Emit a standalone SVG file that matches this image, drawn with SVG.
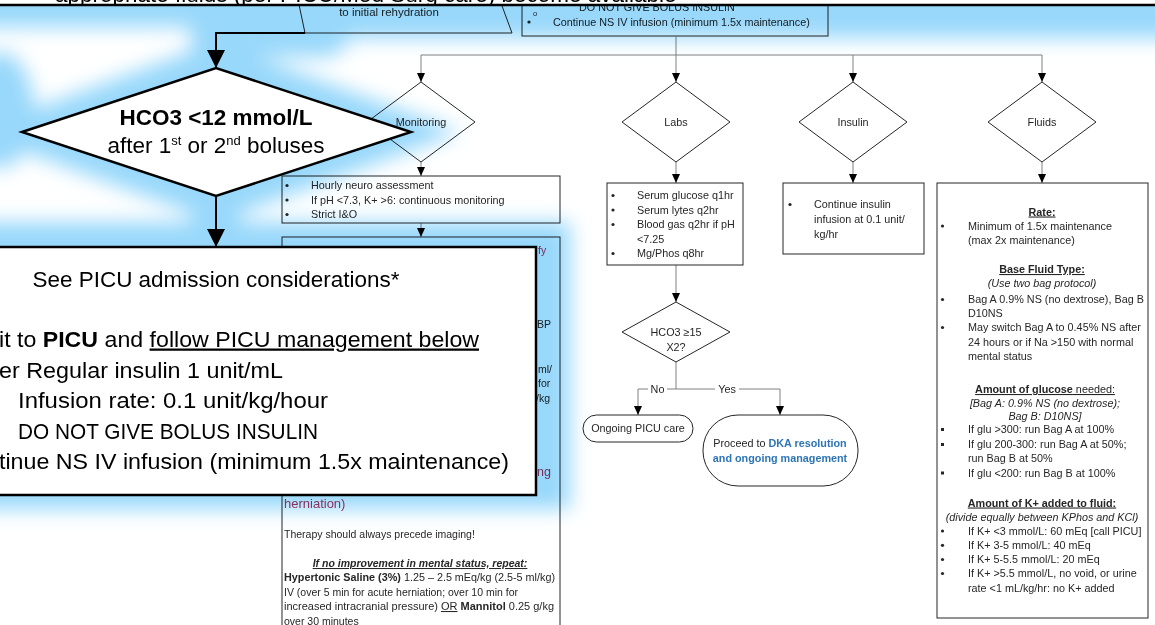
<svg xmlns="http://www.w3.org/2000/svg" width="1155" height="625" viewBox="0 0 1155 625">
<style>
text{font-family:'Liberation Sans',Arial,Helvetica,sans-serif;fill:#262626}
.s{font-size:10.8px}
.p{font-size:10.5px}
.c{text-anchor:middle}
.e{text-anchor:end}
.b{font-weight:bold}
.i{font-style:italic}
.u{text-decoration:underline}
.shape{fill:#fff;stroke:#262626;stroke-width:1}
.wire{fill:none;stroke:#808080;stroke-width:1}
.dot{fill:#262626}
.big{font-size:22.5px;fill:#000}
.heavy{fill:#fff;stroke:#000;stroke-width:2.5}
.bold-wire{fill:none;stroke:#000;stroke-width:2}
.red{fill:#b8385e}
.blue{fill:#2e75b6}
</style>
<defs>
<marker id="tip" markerUnits="userSpaceOnUse" viewBox="0 0 9 8" markerWidth="9" markerHeight="8" refX="9" refY="4" orient="auto"><path d="M0,0L9,4L0,8z" fill="#000"/></marker>
<marker id="tipBig" markerUnits="userSpaceOnUse" viewBox="0 0 18 18" markerWidth="18" markerHeight="18" refX="18" refY="9" orient="auto"><path d="M0,0L18,9L0,18z" fill="#000"/></marker>
<filter id="soft" x="-0.2" y="-0.3" width="1.4" height="1.6"><feGaussianBlur stdDeviation="10"/></filter>
<clipPath id="topClip"><rect x="-10" y="-60" width="1175" height="64.5"/></clipPath>
</defs>

<rect width="1155" height="625" fill="#fff"/>

<!-- ===== flowchart ===== -->
<g id="infusion-box">
  <rect class="shape" x="522" y="-20" width="306" height="56"/>
  <text class="s" x="579" y="10.5">DO NOT GIVE BOLUS INSULIN</text>
  <text x="533" y="16" font-size="7.5">o</text>
  <circle class="dot" cx="529" cy="22" r="1.6"/>
  <text class="s" x="553" y="25.5">Continue NS IV infusion (minimum 1.5x maintenance)</text>
</g>
<g id="rehydration">
  <polygon class="shape" points="297,-5 498,-5 512,33 305,33"/>
  <text class="c" x="389" y="16" font-size="11.5">to initial rehydration</text>
</g>

<g id="connectors">
  <path class="wire" d="M676,36V55M421,55H1042"/>
  <path class="wire" d="M421,55V82" marker-end="url(#tip)"/>
  <path class="wire" d="M676,55V82" marker-end="url(#tip)"/>
  <path class="wire" d="M853,55V82" marker-end="url(#tip)"/>
  <path class="wire" d="M1042,55V82" marker-end="url(#tip)"/>
  <path class="wire" d="M421,162V176" marker-end="url(#tip)"/>
  <path class="wire" d="M421,223V237" marker-end="url(#tip)"/>
  <path class="wire" d="M676,162V183" marker-end="url(#tip)"/>
  <path class="wire" d="M676,265V302" marker-end="url(#tip)"/>
  <path class="wire" d="M853,162V183" marker-end="url(#tip)"/>
  <path class="wire" d="M1042,162V183" marker-end="url(#tip)"/>
  <path class="wire" d="M676,362V389M638,389H780"/>
  <path class="wire" d="M638,389V415" marker-end="url(#tip)"/>
  <path class="wire" d="M780,389V415" marker-end="url(#tip)"/>
  <rect x="648" y="383" width="19" height="12" fill="#fff"/>
  <rect x="715" y="383" width="24" height="12" fill="#fff"/>
  <text class="s c" x="657.5" y="393">No</text>
  <text class="s c" x="727" y="393">Yes</text>
</g>

<g id="monitoring">
  <polygon class="shape" points="421,82 475,122 421,162 367,122"/>
  <text class="s c" x="421" y="126">Monitoring</text>
</g>
<g id="monitoring-list">
  <rect class="shape" x="282" y="176" width="278" height="47"/>
  <circle class="dot" cx="287" cy="185.5" r="1.6"/><text class="s" x="311" y="189">Hourly neuro assessment</text>
  <circle class="dot" cx="287" cy="200" r="1.6"/><text class="s" x="311" y="203.5">If pH &lt;7.3, K+ &gt;6: continuous monitoring</text>
  <circle class="dot" cx="287" cy="214.5" r="1.6"/><text class="s" x="311" y="218">Strict I&amp;O</text>
</g>
<g id="edema-panel">
  <rect class="shape" x="282" y="237" width="278" height="420"/>
  <text class="p red" x="538" y="253.5">fy</text>
  <text class="p" x="537" y="328">BP</text>
  <text class="p" x="538" y="373">ml/</text>
  <text class="p" x="538" y="386.5">for</text>
  <text class="p" x="536" y="401.5">/kg</text>
  <text class="red" x="537" y="476" font-size="12.5">ng</text>
  <text class="red" x="284" y="508" font-size="13">herniation)</text>
  <text class="p" x="284" y="538">Therapy should always precede imaging!</text>
  <text class="p c b i u" x="420" y="567">If no improvement in mental status, repeat:</text>
  <text class="p" x="284" y="581" textLength="271" lengthAdjust="spacingAndGlyphs"><tspan class="b">Hypertonic Saline (3%)</tspan> 1.25 – 2.5 mEq/kg (2.5-5 ml/kg)</text>
  <text class="p" x="284" y="595.5">IV (over 5 min for acute herniation; over 10 min for</text>
  <text class="p" x="284" y="610" textLength="270" lengthAdjust="spacingAndGlyphs">increased intracranial pressure) <tspan class="u">OR</tspan> <tspan class="b">Mannitol</tspan> 0.25 g/kg</text>
  <text class="p" x="284" y="624.5">over 30 minutes</text>
</g>

<g id="labs">
  <polygon class="shape" points="676,82 730,122 676,162 622,122"/>
  <text class="s c" x="676" y="126">Labs</text>
</g>
<g id="labs-list">
  <rect class="shape" x="607" y="183" width="136" height="82"/>
  <circle class="dot" cx="613" cy="195.5" r="1.6"/><text class="s" x="637" y="199">Serum glucose q1hr</text>
  <circle class="dot" cx="613" cy="210" r="1.6"/><text class="s" x="637" y="214">Serum lytes q2hr</text>
  <circle class="dot" cx="613" cy="224.5" r="1.6"/><text class="s" x="637" y="228">Blood gas q2hr if pH</text>
  <text class="s" x="637" y="243">&lt;7.25</text>
  <circle class="dot" cx="613" cy="253.5" r="1.6"/><text class="s" x="637" y="257">Mg/Phos q8hr</text>
</g>
<g id="hco3-check">
  <polygon class="shape" points="676,302 730,332 676,362 622,332"/>
  <text class="s c" x="676" y="336">HCO3 ≥15</text>
  <text class="s c" x="676" y="351">X2?</text>
</g>
<g id="ongoing-picu">
  <rect class="shape" x="583" y="415" width="110" height="27" rx="13.5"/>
  <text class="s c" x="638" y="432">Ongoing PICU care</text>
</g>
<g id="dka-resolution">
  <rect class="shape" x="703" y="415" width="155" height="71" rx="35"/>
  <text class="s c" x="780" y="447">Proceed to <tspan class="b blue">DKA resolution</tspan></text>
  <text class="s c b blue" x="780" y="461.5">and ongoing management</text>
</g>

<g id="insulin">
  <polygon class="shape" points="853,82 907,122 853,162 799,122"/>
  <text class="s c" x="853" y="126">Insulin</text>
</g>
<g id="insulin-list">
  <rect class="shape" x="783" y="183" width="141" height="71"/>
  <circle class="dot" cx="790" cy="204.5" r="1.6"/>
  <text class="s" x="814" y="208">Continue insulin</text>
  <text class="s" x="814" y="223">infusion at 0.1 unit/</text>
  <text class="s" x="814" y="237.5">kg/hr</text>
</g>

<g id="fluids">
  <polygon class="shape" points="1042,82 1096,122 1042,162 988,122"/>
  <text class="s c" x="1042" y="126">Fluids</text>
</g>
<g id="fluids-list">
  <rect class="shape" x="937" y="183" width="211" height="435"/>
  <text class="s c b u" x="1042" y="215.5">Rate:</text>
  <circle class="dot" cx="942.5" cy="226" r="1.6"/>
  <text class="s" x="968" y="229.5">Minimum of 1.5x maintenance</text>
  <text class="s" x="968" y="244">(max 2x maintenance)</text>
  <text class="s c b u" x="1042" y="273">Base Fluid Type:</text>
  <text class="s c i" x="1042" y="286.5">(Use two bag protocol)</text>
  <circle class="dot" cx="942.5" cy="299.5" r="1.6"/>
  <text class="s" x="968" y="303">Bag A 0.9% NS (no dextrose), Bag B</text>
  <text class="s" x="968" y="317">D10NS</text>
  <circle class="dot" cx="942.5" cy="327.5" r="1.6"/>
  <text class="s" x="968" y="331">May switch Bag A to 0.45% NS after</text>
  <text class="s" x="968" y="345.5">24 hours or if Na &gt;150 with normal</text>
  <text class="s" x="968" y="360">mental status</text>
  <text class="s c u" x="1045" y="393"><tspan class="b">Amount of glucose</tspan> needed:</text>
  <text class="s c i" x="1045" y="406.5">[Bag A: 0.9% NS (no dextrose);</text>
  <text class="s c i" x="1045" y="420">Bag B: D10NS]</text>
  <rect class="dot" x="941" y="428" width="3" height="3"/>
  <text class="s" x="968" y="433">If glu &gt;300: run Bag A at 100%</text>
  <rect class="dot" x="941" y="443" width="3" height="3"/>
  <text class="s" x="968" y="448">If glu 200-300: run Bag A at 50%;</text>
  <text class="s" x="968" y="462">run Bag B at 50%</text>
  <rect class="dot" x="941" y="471.5" width="3" height="3"/>
  <text class="s" x="968" y="476.5">If glu &lt;200: run Bag B at 100%</text>
  <text class="s c b u" x="1042" y="506.5">Amount of K+ added to fluid:</text>
  <text class="s c i" x="1042" y="520.5">(divide equally between KPhos and KCl)</text>
  <circle class="dot" cx="942.5" cy="531" r="1.6"/>
  <text class="s" x="968" y="534.5">If K+ &lt;3 mmol/L: 60 mEq [call PICU]</text>
  <circle class="dot" cx="942.5" cy="545.3" r="1.6"/>
  <text class="s" x="968" y="548.8">If K+ 3-5 mmol/L: 40 mEq</text>
  <circle class="dot" cx="942.5" cy="559.5" r="1.6"/>
  <text class="s" x="968" y="563">If K+ 5-5.5 mmol/L: 20 mEq</text>
  <circle class="dot" cx="942.5" cy="573.5" r="1.6"/>
  <text class="s" x="968" y="577">If K+ &gt;5.5 mmol/L, no void, or urine</text>
  <text class="s" x="968" y="591.5">rate &lt;1 mL/kg/hr: no K+ added</text>
</g>

<!-- ===== soft blue glow behind the highlighted callout ===== -->
<g id="glow" filter="url(#soft)" fill="#98d8fb" style="mix-blend-mode:multiply">
  <polygon points="-40,-40 1195,-40 1195,38 190,38 190,27 -40,27"/>
  <path d="M325,33H216V80" fill="none" stroke="#98d8fb" stroke-width="48" stroke-linecap="round"/>
  <polygon points="-28,132 216,42 460,132 216,222"/>
  <ellipse cx="0" cy="110" rx="34" ry="58"/>
  <rect x="192" y="190" width="48" height="50"/>
  <rect x="-60" y="222" width="630" height="287"/>
</g>

<!-- ===== highlighted callout ===== -->
<g id="fluids-callout">
  <rect x="-10" y="-60" width="1175" height="65" fill="#fff"/>
  <text class="big" x="55" y="2" font-size="23.5" clip-path="url(#topClip)">appropriate fluids (per PICU/Med Surg care) become available</text>
  <path d="M-10,5H1165" stroke="#000" stroke-width="2.5"/>
</g>
<g id="callout-connectors">
  <path class="bold-wire" d="M305,33H216V68" marker-end="url(#tipBig)"/>
  <path class="bold-wire" d="M216,196V247" marker-end="url(#tipBig)"/>
</g>
<g id="hco3-decision">
  <polygon class="heavy" points="22,132 216,68 411,132 216,196"/>
  <text class="big c b" x="216" y="125">HCO3 &lt;12 mmol/L</text>
  <text class="big c" x="216" y="153">after 1<tspan dy="-8" font-size="13">st</tspan><tspan dy="8"> or 2</tspan><tspan dy="-8" font-size="13">nd</tspan><tspan dy="8"> boluses</tspan></text>
</g>
<g id="picu-callout">
  <rect class="heavy" x="-104" y="247" width="640" height="248"/>
  <text class="big c" x="216" y="287" textLength="367" lengthAdjust="spacingAndGlyphs">See PICU admission considerations*</text>
  <text class="big" x="-1" y="346.5" textLength="480" lengthAdjust="spacingAndGlyphs">it to <tspan class="b">PICU</tspan> and <tspan class="u">follow PICU management below</tspan></text>
  <text class="big" x="-1" y="377.5" textLength="284" lengthAdjust="spacingAndGlyphs">er Regular insulin 1 unit/mL</text>
  <text class="big" x="18" y="408" textLength="310" lengthAdjust="spacingAndGlyphs">Infusion rate: 0.1 unit/kg/hour</text>
  <text class="big" x="18" y="438.5" textLength="300" lengthAdjust="spacingAndGlyphs">DO NOT GIVE BOLUS INSULIN</text>
  <text class="big" x="-1" y="469" textLength="510" lengthAdjust="spacingAndGlyphs">tinue NS IV infusion (minimum 1.5x maintenance)</text>
</g>
</svg>
